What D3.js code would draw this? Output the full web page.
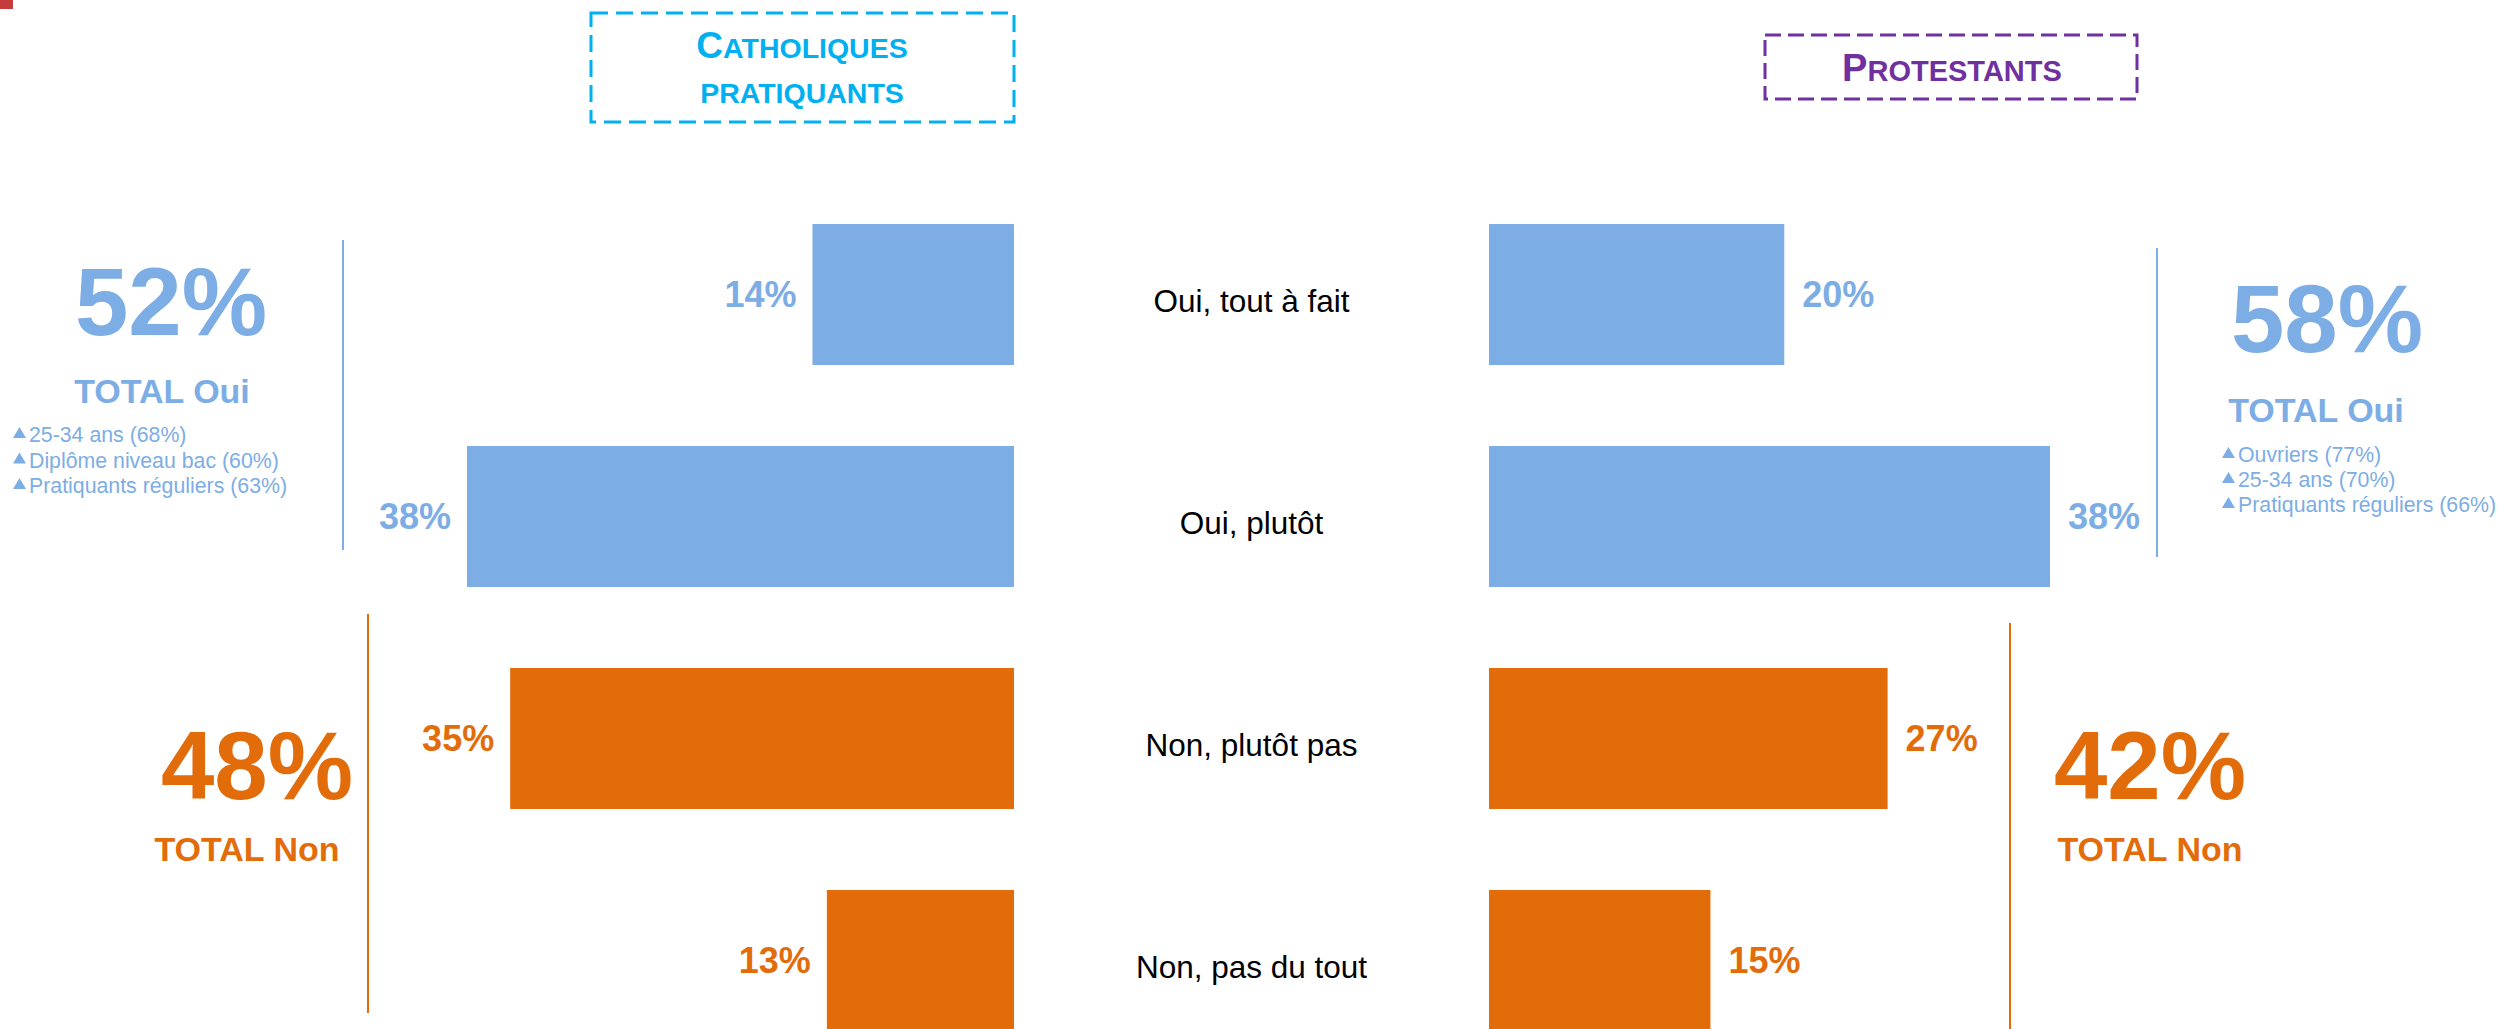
<!DOCTYPE html>
<html><head><meta charset="utf-8">
<script src="https://cdn.jsdelivr.net/npm/d3@7"></script>
<style>html,body{margin:0;padding:0;background:#fff;}svg{display:block;font-family:"Liberation Sans",Arial,sans-serif;}</style>
</head><body>
<script>
// ---- data ----
const categories = ["Oui, tout à fait", "Oui, plutôt", "Non, plutôt pas", "Non, pas du tout"];
const catholiques = [14, 38, 35, 13];
const protestants = [20, 38, 27, 15];
const groupNames = ["Catholiques pratiquants", "Protestants"];
const totalOui = [52, 58];
const totalNon = [48, 42];
const bulletsCath = ["25-34 ans (68%)", "Diplôme niveau bac (60%)", "Pratiquants réguliers (63%)"];
const bulletsProt = ["Ouvriers (77%)", "25-34 ans (70%)", "Pratiquants réguliers (66%)"];

// ---- styles ----
const BLUE = "#7DADE5", ORANGE = "#E36C0A", CYAN = "#00B0F0", PURPLE = "#7030A0";
const W = 2501, H = 1029;
const svg = d3.select("body").append("svg").attr("width", W).attr("height", H);

const y = d3.scaleBand().domain(categories).range([143, 1112]).padding(0.365);
const xL = d3.scaleLinear().domain([0, 38]).range([1014, 467]);
const xR = d3.scaleLinear().domain([0, 38]).range([1489, 2050]);
const color = (i) => i < 2 ? BLUE : ORANGE;

// red corner mark
svg.append("rect").attr("x", 0).attr("y", 0).attr("width", 13).attr("height", 9).attr("fill", "#C43C3C");

// left bars
svg.append("g").selectAll("rect").data(catholiques).join("rect")
  .attr("x", d => xL(d)).attr("y", (d, i) => y(categories[i]))
  .attr("width", d => xL(0) - xL(d)).attr("height", y.bandwidth())
  .attr("fill", (d, i) => color(i));
svg.append("g").selectAll("text").data(catholiques).join("text")
  .attr("x", d => xL(d) - 16).attr("y", (d, i) => y(categories[i]) + y.bandwidth() / 2)
  .attr("dy", "0.36em").attr("text-anchor", "end")
  .attr("font-size", 36).attr("font-weight", "bold").attr("fill", (d, i) => color(i))
  .text(d => d + "%");

// right bars
svg.append("g").selectAll("rect").data(protestants).join("rect")
  .attr("x", xR(0)).attr("y", (d, i) => y(categories[i]))
  .attr("width", d => xR(d) - xR(0)).attr("height", y.bandwidth())
  .attr("fill", (d, i) => color(i));
svg.append("g").selectAll("text").data(protestants).join("text")
  .attr("x", d => xR(d) + 18).attr("y", (d, i) => y(categories[i]) + y.bandwidth() / 2)
  .attr("dy", "0.36em").attr("text-anchor", "start")
  .attr("font-size", 36).attr("font-weight", "bold").attr("fill", (d, i) => color(i))
  .text(d => d + "%");

// category labels
svg.append("g").selectAll("text").data(categories).join("text")
  .attr("x", (xL(0) + xR(0)) / 2).attr("y", d => y(d) + y.bandwidth() / 2)
  .attr("dy", "0.55em").attr("text-anchor", "middle")
  .attr("font-size", 31.5).attr("fill", "#000").text(d => d);

// header boxes (small caps)
function smallCapsLine(g, x, yy, text, big, small, col) {
  const t = g.append("text").attr("x", x).attr("y", yy).attr("text-anchor", "middle")
    .attr("font-weight", "bold").attr("fill", col);
  t.append("tspan").attr("font-size", big).text(text[0].toUpperCase());
  t.append("tspan").attr("font-size", small).text(text.slice(1).toUpperCase());
  return t;
}
const hb = svg.append("g");
hb.append("rect").attr("x", 591).attr("y", 13).attr("width", 423).attr("height", 109)
  .attr("fill", "none").attr("stroke", CYAN).attr("stroke-width", 3).attr("stroke-dasharray", "17,8");
const cw = groupNames[0].split(" ");
smallCapsLine(hb, 802, 58, cw[0], 37, 28.5, CYAN);
hb.append("text").attr("x", 802).attr("y", 103).attr("text-anchor", "middle")
  .attr("font-weight", "bold").attr("font-size", 28.5).attr("fill", CYAN).text(cw[1].toUpperCase());
hb.append("rect").attr("x", 1765).attr("y", 35).attr("width", 372).attr("height", 64)
  .attr("fill", "none").attr("stroke", PURPLE).attr("stroke-width", 3).attr("stroke-dasharray", "16,7");
smallCapsLine(hb, 1952, 81, groupNames[1], 38, 29, PURPLE);

// separator lines
const lines = [
  {x: 343, y1: 240, y2: 550, c: BLUE},
  {x: 368, y1: 614, y2: 1013, c: ORANGE},
  {x: 2157, y1: 248, y2: 557, c: BLUE},
  {x: 2010, y1: 623, y2: 1029, c: ORANGE}
];
svg.append("g").selectAll("line").data(lines).join("line")
  .attr("x1", d => d.x).attr("x2", d => d.x).attr("y1", d => d.y1).attr("y2", d => d.y2)
  .attr("stroke", d => d.c).attr("stroke-width", 2);

// totals
function total(x1, yb1, x2, yb2, val, label, col) {
  svg.append("text").attr("x", x1).attr("y", yb1).attr("text-anchor", "middle")
    .attr("font-size", 96).attr("font-weight", "bold").attr("fill", col).text(val + "%");
  svg.append("text").attr("x", x2).attr("y", yb2).attr("text-anchor", "middle")
    .attr("font-size", 34).attr("font-weight", "bold").attr("fill", col).text(label);
}
total(171, 335, 162, 403, totalOui[0], "TOTAL Oui", BLUE);
total(257, 799, 247, 861, totalNon[0], "TOTAL Non", ORANGE);
total(2327, 352, 2316, 422, totalOui[1], "TOTAL Oui", BLUE);
total(2150, 799, 2150, 861, totalNon[1], "TOTAL Non", ORANGE);

// bullets
function bullets(list, xt, y0, step) {
  const g = svg.append("g");
  list.forEach((s, i) => {
    const yb = y0 + i * step;
    g.append("path").attr("d", `M${xt - 16},${yb - 4} L${xt - 3},${yb - 4} L${xt - 9.5},${yb - 15} Z`).attr("fill", BLUE);
    g.append("text").attr("x", xt).attr("y", yb).attr("font-size", 21.3).attr("fill", BLUE).text(s);
  });
}
bullets(bulletsCath, 29, 442, 25.5);
bullets(bulletsProt, 2238, 462, 25);
</script>
</body></html>
